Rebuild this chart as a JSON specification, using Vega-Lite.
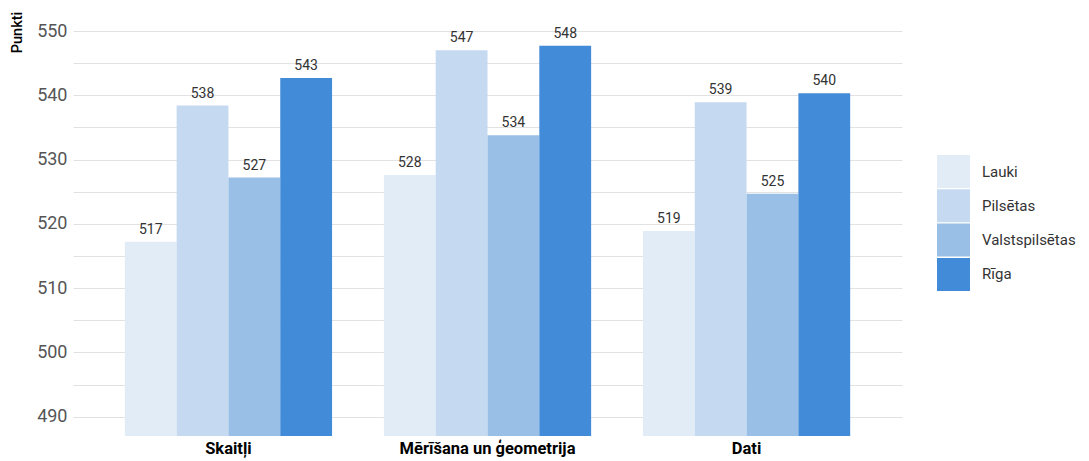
{
  "$schema": "https://vega.github.io/schema/vega-lite/v6.json",
  "autosize": {"type": "none"},
  "padding": {"left": 73, "top": 31, "right": 187, "bottom": 25},
  "width": 829,
  "height": 405,
  "background": "white",
  "config": {
    "font": "Roboto",
    "view": {"stroke": null}
  },
  "data": {
    "values": [
      {"joma": "Skaitļi", "grupa": "Lauki", "punkti": 517.2},
      {"joma": "Skaitļi", "grupa": "Pilsētas", "punkti": 538.4},
      {"joma": "Skaitļi", "grupa": "Valstspilsētas", "punkti": 527.2},
      {"joma": "Skaitļi", "grupa": "Rīga", "punkti": 542.7},
      {"joma": "Mērīšana un ģeometrija", "grupa": "Lauki", "punkti": 527.6},
      {"joma": "Mērīšana un ģeometrija", "grupa": "Pilsētas", "punkti": 547.0},
      {"joma": "Mērīšana un ģeometrija", "grupa": "Valstspilsētas", "punkti": 533.8},
      {"joma": "Mērīšana un ģeometrija", "grupa": "Rīga", "punkti": 547.7},
      {"joma": "Dati", "grupa": "Lauki", "punkti": 518.9},
      {"joma": "Dati", "grupa": "Pilsētas", "punkti": 538.9},
      {"joma": "Dati", "grupa": "Valstspilsētas", "punkti": 524.7},
      {"joma": "Dati", "grupa": "Rīga", "punkti": 540.3}
    ]
  },
  "encoding": {
    "x": {
      "field": "joma", "type": "nominal",
      "sort": ["Skaitļi", "Mērīšana un ģeometrija", "Dati"],
      "scale": {"paddingInner": 0.2, "paddingOuter": 0.2},
      "axis": {
        "title": null, "labelAngle": 0, "domain": false, "ticks": false,
        "labelFontSize": 16.5, "labelFontWeight": "bold", "labelColor": "#000000",
        "labelPadding": 4, "labelBaseline": "top", "labelLimit": 0
      }
    },
    "xOffset": {
      "field": "grupa", "type": "nominal",
      "sort": ["Lauki", "Pilsētas", "Valstspilsētas", "Rīga"]
    },
    "y": {
      "field": "punkti", "type": "quantitative",
      "scale": {"domain": [487, 550], "nice": false, "zero": false, "clamp": true},
      "axis": {
        "title": "Punkti", "titleAngle": -90, "titleX": -56, "titleY": 1,
        "titleAlign": "center", "titleBaseline": "middle",
        "titleFontSize": 14.5, "titleFontWeight": 500, "titleColor": "#000000",
        "values": [490, 495, 500, 505, 510, 515, 520, 525, 530, 535, 540, 545, 550],
        "labelExpr": "datum.value % 10 === 0 ? datum.label : ''",
        "domain": false, "ticks": false, "labelPadding": 6,
        "labelFontSize": 18, "labelColor": "#555555",
        "gridColor": "#e2e2e2", "gridWidth": 1
      }
    }
  },
  "layer": [
    {
      "mark": {"type": "bar"},
      "encoding": {
        "color": {
          "field": "grupa", "type": "nominal",
          "sort": ["Lauki", "Pilsētas", "Valstspilsētas", "Rīga"],
          "scale": {
            "domain": ["Lauki", "Pilsētas", "Valstspilsētas", "Rīga"],
            "range": ["#e1ecf7", "#c5d9f1", "#99bfe6", "#428bd8"]
          },
          "legend": {
            "title": null, "orient": "none", "legendX": 864, "legendY": 124,
            "symbolType": "square", "symbolSize": 1089, "symbolStrokeWidth": 0,
            "rowPadding": 1.3, "labelFontSize": 15, "labelColor": "#333333",
            "labelOffset": 12, "labelLimit": 0
          }
        }
      }
    },
    {
      "mark": {"type": "text", "baseline": "bottom", "dy": -5, "fontSize": 14, "color": "#333333"},
      "encoding": {
        "text": {"field": "punkti", "type": "quantitative", "format": ".0f"}
      }
    }
  ]
}
